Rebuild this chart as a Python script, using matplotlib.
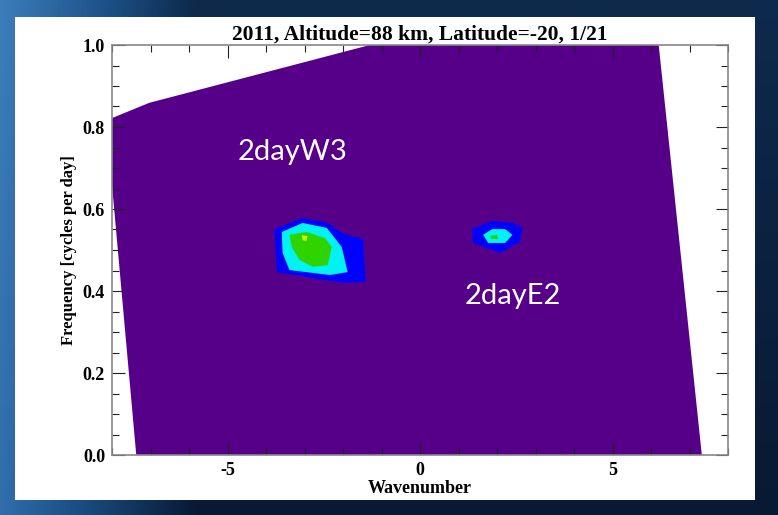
import numpy as np
import matplotlib
matplotlib.use("Agg")
import matplotlib.pyplot as plt
from matplotlib.patches import Rectangle
from matplotlib.colors import LinearSegmentedColormap

# ---- data ----
title = "2011, Altitude=88 km, Latitude=-20, 1/21"
xlabel = "Wavenumber"
ylabel = "Frequency [cycles per day]"
x_ticks = [-5, 0, 5]
y_ticks = [0.0, 0.2, 0.4, 0.6, 0.8, 1.0]

# outer (lowest level) filled region of the spectrum
region_x = [-8.15, -7.03, -1.30, 6.20, 7.32, -7.37]
region_y = [0.816, 0.859, 1.000, 1.000, 0.000, 0.000]

# 2dayW3 peak contours
w3_blue_x = [-3.78, -3.05, -2.40, -2.01, -1.48, -1.41, -2.01, -3.72]
w3_blue_y = [0.551, 0.578, 0.566, 0.541, 0.527, 0.422, 0.420, 0.446]
w3_cyan_x = [-3.59, -3.05, -2.42, -2.03, -1.88, -2.34, -3.39, -3.57]
w3_cyan_y = [0.544, 0.566, 0.554, 0.507, 0.446, 0.439, 0.451, 0.493]
w3_green_x = [-3.39, -2.94, -2.47, -2.29, -2.40, -2.79, -3.13, -3.33]
w3_green_y = [0.537, 0.544, 0.529, 0.507, 0.463, 0.459, 0.476, 0.507]
w3_yellow_x = [-3.07, -2.92, -2.95, -3.05]
w3_yellow_y = [0.536, 0.534, 0.522, 0.524]

# 2dayE2 peak contours
e2_blue_x = [1.35, 1.875, 2.42, 2.66, 2.60, 2.08, 1.38]
e2_blue_y = [0.551, 0.571, 0.566, 0.554, 0.520, 0.493, 0.517]
e2_cyan_x = [1.64, 1.875, 2.21, 2.40, 2.21, 1.77]
e2_cyan_y = [0.537, 0.551, 0.551, 0.537, 0.517, 0.517]
e2_green_x = [1.82, 2.00, 2.03, 1.85]
e2_green_y = [0.534, 0.537, 0.527, 0.527]

labels = ["2dayW3", "2dayE2"]
label_x = [-3.31, 2.40]
label_y = [0.739, 0.388]

c_purple = "#560089"
c_blue = "#0000ff"
c_cyan = "#00f2f2"
c_green = "#2fd400"
c_yellow = "#c8ff00"

# ---- figure ----
fig = plt.figure(figsize=(7.78, 5.15), dpi=100)
fig.patch.set_facecolor("#0b1d38")

# slide background gradient
bg = fig.add_axes([0, 0, 1, 1], zorder=-10)
gx = np.linspace(0, 1, 200)
gy = np.linspace(0, 1, 150)
GX, GY = np.meshgrid(gx, gy)
val = np.clip(1.0 - GX * 4.0, 0, 1) * 0.8 + 0.15 * (1 - GY)
cm = LinearSegmentedColormap.from_list("slide", ["#081a33", "#1b4f86", "#3f82c0"])
bg.imshow(val, cmap=cm, aspect="auto", extent=[0, 1, 0, 1], origin="upper", vmin=0, vmax=1)
bg.set_axis_off()

# white panel
fig.patches.append(Rectangle((15 / 778, (515 - 500) / 515), (755 - 15) / 778, (500 - 17) / 515,
                             transform=fig.transFigure, facecolor="white", edgecolor="none", zorder=-5))

ax = fig.add_axes([112 / 778, (515 - 455) / 515, (728 - 112) / 778, (455 - 45) / 515])
ax.set_facecolor("white")
ax.fill(region_x, region_y, color=c_purple, lw=0)
for xs, ys, c in [(w3_blue_x, w3_blue_y, c_blue), (w3_cyan_x, w3_cyan_y, c_cyan),
                  (w3_green_x, w3_green_y, c_green), (w3_yellow_x, w3_yellow_y, c_yellow),
                  (e2_blue_x, e2_blue_y, c_blue), (e2_cyan_x, e2_cyan_y, c_cyan),
                  (e2_green_x, e2_green_y, c_green)]:
    ax.fill(xs, ys, color=c, lw=0)

ax.set_xlim(-8, 8)
ax.set_ylim(0, 1)
ax.set_xticks(x_ticks)
ax.set_xticks(np.arange(-8, 9, 1), minor=True)
ax.set_yticks(y_ticks)
ax.set_yticks(np.arange(0, 1.0001, 0.05), minor=True)
serif = "Liberation Serif"
ax.set_xticklabels([str(v) for v in x_ticks], fontfamily=serif, fontweight="bold", fontsize=13)
ax.set_yticklabels([f"{v:.1f}" for v in y_ticks], fontfamily=serif, fontweight="bold", fontsize=13)
ax.tick_params(which="both", direction="in", top=True, right=True, color="#222222", width=0.8)
ax.tick_params(which="major", length=9, pad=5)
ax.tick_params(which="minor", length=5)
for s in ax.spines.values():
    s.set_color("#888888")
    s.set_linewidth(1.2)

ax.set_title(title, fontfamily=serif, fontweight="bold", fontsize=15.5, pad=4)
ax.set_xlabel(xlabel, fontfamily=serif, fontweight="bold", fontsize=13, labelpad=1)
ax.set_ylabel(ylabel, fontfamily=serif, fontweight="bold", fontsize=12, labelpad=4)

for t, lx, ly in zip(labels, label_x, label_y):
    ax.text(lx, ly, t, color="white", fontsize=21, fontfamily="Lato", ha="center", va="center")

fig.savefig("out.png", dpi=100, facecolor=fig.get_facecolor())
